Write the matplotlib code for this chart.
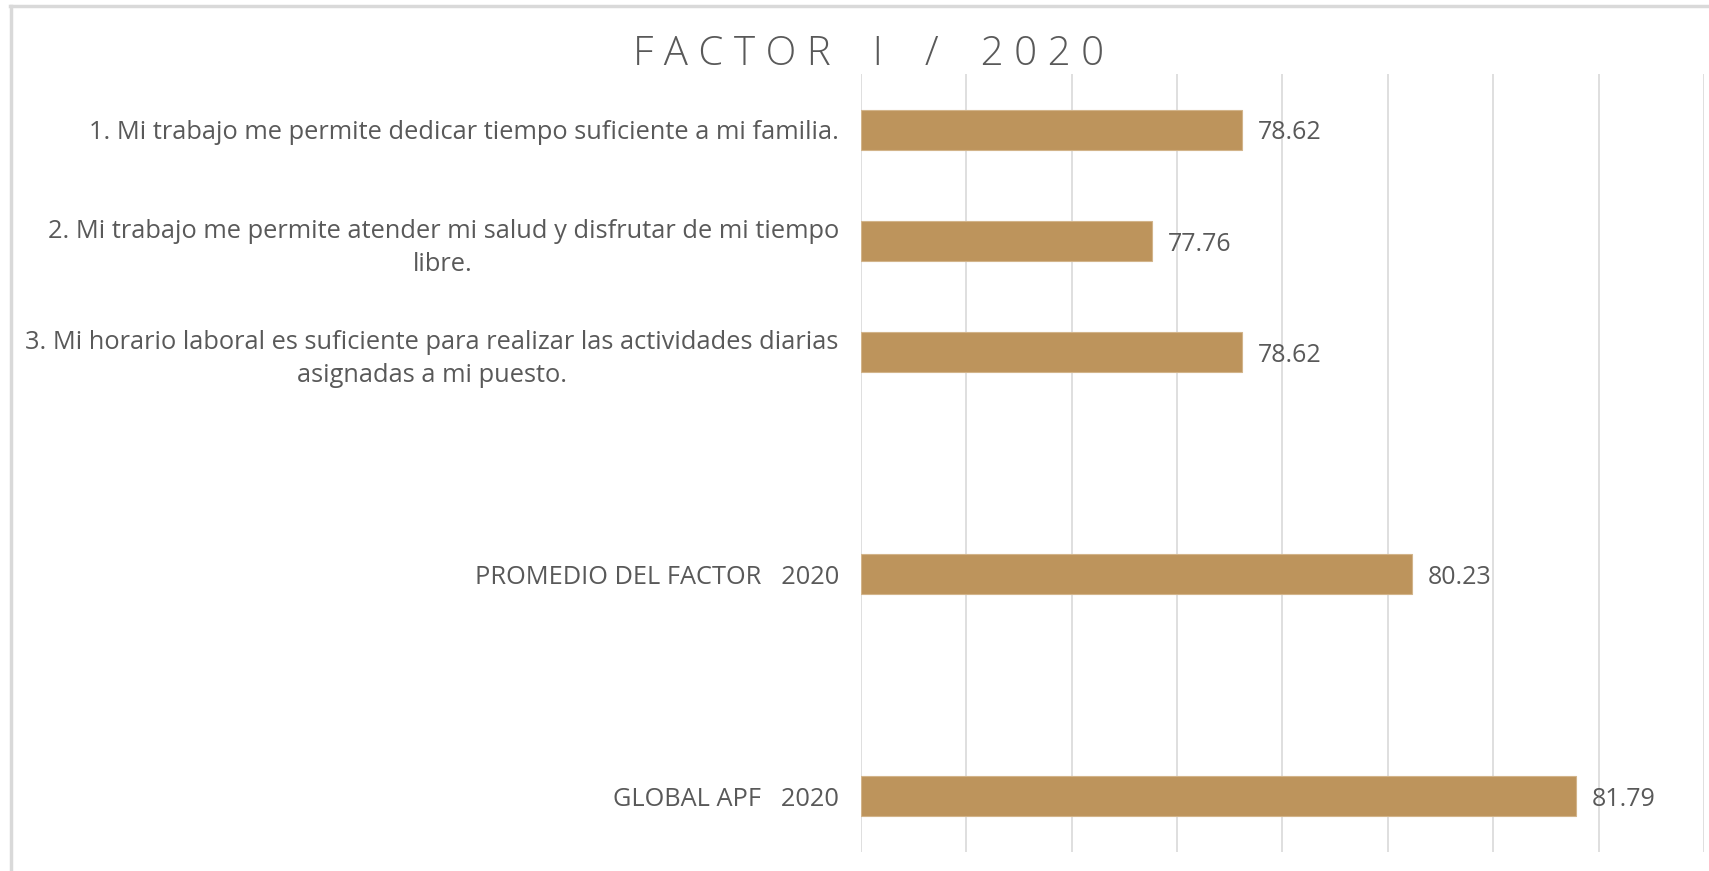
import numpy as np
import matplotlib.pyplot as plt
from matplotlib.lines import Line2D

# categories (top to bottom), blanks are spacer rows
labels = [
    "1. Mi trabajo me permite dedicar tiempo suficiente a mi familia.",
    "2. Mi trabajo me permite atender mi salud y disfrutar de mi tiempo\nlibre.",
    "3. Mi horario laboral es suficiente para realizar las actividades diarias\nasignadas a mi puesto.",
    "",
    "PROMEDIO DEL FACTOR   2020",
    "",
    "GLOBAL APF   2020",
]
values = [78.62, 77.76, 78.62, None, 80.23, None, 81.79]

BAR = "#BD945C"
TXT = "#595959"
GRID = "#D9D9D9"

plt.rcParams['font.family'] = ['Open Sans', 'DejaVu Sans']

fig = plt.figure(figsize=(17.09, 8.71), dpi=100)
ax = fig.add_axes([0.5038, 0.0218, 0.4932, 0.8932])

ypos = np.arange(len(labels))
for y, v in zip(ypos, values):
    if v is None:
        continue
    ax.barh(y, v - 75, left=75, height=0.36, color=BAR, edgecolor="#D2B48A", linewidth=0.8, zorder=3)
    ax.text(v + 0.15, y + 0.03, f"{v:.2f}", va="center", ha="left", fontsize=18, color=TXT)

ax.set_xlim(75, 83)
ax.set_ylim(len(labels) - 0.5, -0.5)
ax.set_xticks(np.arange(75, 84, 1))
ax.set_xticklabels([])
ax.tick_params(axis="x", length=0)
ax.set_yticks(ypos)
ax.set_yticklabels(labels, fontsize=18.3, color=TXT, multialignment="center", linespacing=1.45)
ax.tick_params(axis="y", length=0, pad=16)
ax.grid(axis="x", color=GRID, linewidth=1.2, zorder=0)
for s in ax.spines.values():
    s.set_visible(False)

fig.text(0.5085, 0.937, "F A C T O R    I    /    2 0 2 0", ha="center", va="center",
         fontsize=29, color=TXT, fontweight="light")

# light frame around the chart area
fig.add_artist(Line2D([10 / 1709, 1], [1 - 6 / 871, 1 - 6 / 871], color=GRID, linewidth=2.5,
                      transform=fig.transFigure))
fig.add_artist(Line2D([11 / 1709, 11 / 1709], [0, 1 - 6 / 871], color=GRID, linewidth=2.5,
                      transform=fig.transFigure))

fig.savefig("out.png", dpi=100)
